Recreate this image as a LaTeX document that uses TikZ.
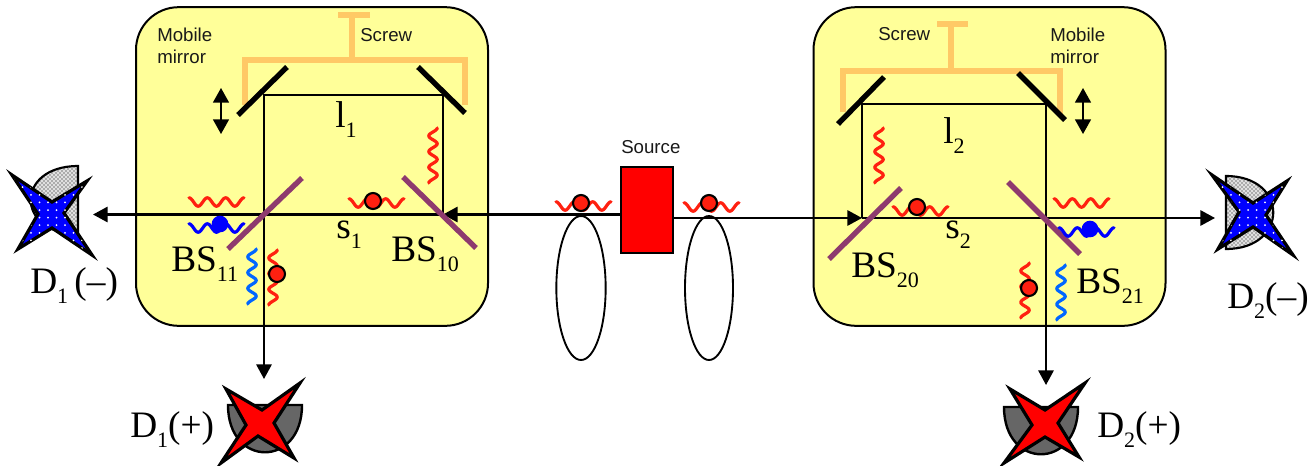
\documentclass[tikz,border=0pt]{standalone}
\usepackage{fontspec}
\setmainfont{Liberation Serif}
\newfontfamily\lsans{Liberation Sans}
\usetikzlibrary{arrows.meta,patterns,shapes.geometric}
\definecolor{boxy}{HTML}{FFFF99}
\definecolor{scr}{HTML}{FFC966}
\definecolor{bsp}{HTML}{8E3A6E}
\definecolor{phr}{HTML}{FF2010}
\definecolor{phb}{HTML}{0000FF}
\definecolor{phl}{HTML}{0066FF}
\definecolor{dgr}{HTML}{666666}
\newcommand{\lsb}[1]{\raisebox{-8pt}{\fontsize{16.5}{16.5}\selectfont #1}}
\newcommand{\hwave}[3]{\draw[wavy,#1] plot[domain=0:1,samples=70] ({#2+55*\x},{#3-4.2*cos(1080*\x)});}
\newcommand{\vwave}[3]{\draw[wavy,#1] plot[domain=0:1,samples=80] ({#2+4.2*cos(1260*\x)},{#3+55*\x});}
\tikzset{
 wavy/.style={line width=2.4pt,line cap=round,line join=round},
 ybox/.style={draw=black,line width=1.5pt,fill=boxy,rounded corners=32pt,minimum width=264pt,minimum height=239pt,inner sep=0pt},
 ray/.style={draw=black,line width=1.6pt},
 rayarr/.style={ray,-{Triangle[length=11pt,width=11.5pt]}},
 mirror/.style={draw=black,line width=4pt},
 bsplit/.style={draw=bsp,line width=4pt},
 screw/.style={draw=scr,line width=5pt},
 dbl/.style={draw=black,line width=1.2pt,{Triangle[length=11pt,width=12pt]}-{Triangle[length=11pt,width=12pt]}},
 photon/.style={circle,draw=black,line width=1.6pt,fill=phr,minimum size=12pt,inner sep=0pt},
 bphoton/.style={circle,fill=phb,minimum size=12.5pt,inner sep=0pt},
 big/.style={font=\fontsize{28}{28}\selectfont,anchor=base west,inner sep=0pt},
 small/.style={font=\lsans\fontsize{14}{14}\selectfont,anchor=base west,inner sep=0pt,text=black!90},
 oval/.style={ellipse,draw=black,line width=1.4pt,fill=white,inner sep=0pt},
 starblue/.style={draw=black,line width=2.4pt,fill=phb,miter limit=10},
 starred/.style={draw=black,line width=2.4pt,fill=red,miter limit=10},
 dotdisc/.style={draw=black,line width=1.6pt,fill=black!12,postaction={pattern=crosshatch dots,pattern color=black}},
 greydisc/.style={draw=black,line width=1.8pt,fill=dgr},
}
\begin{document}
\begin{tikzpicture}[x=0.75pt,y=-0.75pt]
\useasboundingbox (0,0) rectangle (1313,465);
% boxes
\node[ybox] (box1) at (312,166.5) {};
\node[ybox] (box2) at (989.5,166.5) {};
% ovals
\node[oval,minimum width=37pt,minimum height=108pt] (ov1) at (581,288) {};
\node[oval,minimum width=36pt,minimum height=108pt] (ov2) at (709,288) {};
% screws
\draw[screw,line join=miter] (245,105) -- (245,60) -- (465,60) -- (465,105);
\draw[screw] (352,60) -- (352,15);
\draw[screw] (338,15) -- (370,15);
\draw[screw,line join=miter] (843,112) -- (843,71) -- (1060,71) -- (1060,115);
\draw[screw] (951,71) -- (951,24);
\draw[screw] (937,24) -- (968,24);
% junctions
\coordinate (m11) at (264,95);
\coordinate (m10) at (443,95);
\coordinate (b11) at (264,214.5);
\coordinate (b10) at (443,214.5);
\coordinate (m20) at (862,104);
\coordinate (m21) at (1046,104);
\coordinate (b20) at (862,218);
\coordinate (b21) at (1046,218);
\coordinate (in1m) at (93,214.5);
\coordinate (in1p) at (264,379);
\coordinate (in2m) at (1215,218);
\coordinate (in2p) at (1046,385);
\node[draw=black,line width=1.5pt,fill=red,minimum width=38.5pt,minimum height=64.5pt,inner sep=0pt] (src) at (647,210) {};
\coordinate (srcl) at (src.west |- b10);
\coordinate (srcr) at (src.east |- b20);
% rays
\draw[ray] (b10) -- (m10) -- (m11) -- (b11);
\draw[ray] (b20) -- (m20) -- (m21) -- (b21);
\draw[rayarr] (srcl) -- (b10);
\draw[rayarr] (srcr) -- (b20);
\draw[rayarr] (b10) -- (in1m);
\draw[rayarr] (b11) -- (in1p);
\draw[rayarr] (b20) -- (in2m);
\draw[rayarr] (b21) -- (in2p);
% mirrors
\draw[mirror] (238,115) -- (287,67);
\draw[mirror] (418,67) -- (465,113);
\draw[mirror] (838,124) -- (884,77);
\draw[mirror] (1018,73) -- (1065,120);
% beam splitters
\draw[bsplit] (228,249) -- (302,178);
\draw[bsplit] (403,177) -- (476,248);
\draw[bsplit] (829,259) -- (901,188);
\draw[bsplit] (1008,182) -- (1080,254);
% double arrows
\draw[dbl] (221,88) -- (221,134);
\draw[dbl] (1083,88) -- (1083,134);
% waves
\hwave{phr}{189}{202}
\hwave{phb}{189}{228}
\node[bphoton] (pb1) at (220,224) {};
\vwave{phl}{252}{249}
\vwave{phr}{273}{250}
\node[photon] (p1) at (277,274) {};
\vwave{phr}{433}{128}
\hwave{phr}{349}{203}
\node[photon] (p2) at (373,201) {};
\hwave{phr}{556}{206}
\node[photon] (p3) at (581,203) {};
\hwave{phr}{684}{207}
\node[photon] (p4) at (709,203) {};
\vwave{phr}{879}{128}
\hwave{phr}{893}{211}
\node[photon] (p5) at (917,207) {};
\hwave{phr}{1054}{203}
\hwave{phb}{1059}{232}
\node[bphoton] (pb2) at (1090,229) {};
\vwave{phr}{1025}{263}
\node[photon] (p6) at (1029,288) {};
\vwave{phl}{1061}{265}
% detector D1(-)
\path[dotdisc] (78,166) .. controls (15,166) and (15,234) .. (78,234) -- cycle;
\path[starblue] (12,175) -- (52,202) -- (87,181) -- (64,213) -- (92,255) -- (52,228) -- (18,249) -- (38,214) -- cycle;
\begin{scope}
\clip (12,175) -- (52,202) -- (87,181) -- (64,213) -- (92,255) -- (52,228) -- (18,249) -- (38,214) -- cycle;
\foreach \i in {0,...,9}{\foreach \j in {0,...,11}{
  \fill[white] ({14+8.5*\i},{172+7.6*\j}) circle (0.75pt);}}
\end{scope}
% detector D2(-)
\path[dotdisc] (1226,176) .. controls (1289,176) and (1289,249) .. (1226,249) -- cycle;
\path[starblue] (1212,175) -- (1253,203) -- (1287,181) -- (1266,215) -- (1293,255) -- (1253,227) -- (1218,249) -- (1239,212) -- cycle;
\begin{scope}
\clip (1212,175) -- (1253,203) -- (1287,181) -- (1266,215) -- (1293,255) -- (1253,227) -- (1218,249) -- (1239,212) -- cycle;
\foreach \i in {0,...,9}{\foreach \j in {0,...,11}{
  \fill[white] ({1214+8.5*\i},{172+7.6*\j}) circle (0.75pt);}}
\end{scope}
% detector D1(+)
\path[greydisc] (228,405) .. controls (228,468) and (302,468) .. (302,405) -- cycle;
\path[starred] (226,389) -- (262,410) -- (300,383) -- (274,423) -- (294,458) -- (258,436) -- (221,463) -- (246,425) -- cycle;
% detector D2(+)
\path[greydisc] (1004,407) .. controls (1004,470) and (1078,470) .. (1078,407) -- cycle;
\path[starred] (1010,389) -- (1045,410) -- (1085,383) -- (1058,423) -- (1079,457) -- (1045,437) -- (1004,463) -- (1032,425) -- cycle;
% labels
\node[big] (t1) at (30,293) {D\lsb{1}\,(–)};
\node[big] (t2) at (171,271) {BS\lsb{11}};
\node[big] (t3) at (391,261) {BS\lsb{10}};
\node[big] (t4) at (851,277) {BS\lsb{20}};
\node[big] (t5) at (1076,293) {BS\lsb{21}};
\node[big] (t6) at (1227,308) {D\lsb{2}(–)};
\node[big] (t7) at (130,437) {D\lsb{1}(+)};
\node[big] (t8) at (1097,437) {D\lsb{2}(+)};
\node[big] (t9) at (335,127) {l\lsb{1}};
\node[big] (t10) at (943,143) {l\lsb{2}};
\node[big] (t11) at (336,238) {s\lsb{1}};
\node[big] (t12) at (945,238) {s\lsb{2}};
\node[small] (s1) at (360,41) {Screw};
\node[small] (s2) at (157,41) {Mobile};
\node[small] (s3) at (157,63) {mirror};
\node[small] (s4) at (878,40) {Screw};
\node[small] (s5) at (1050,41) {Mobile};
\node[small] (s6) at (1050,63) {mirror};
\node[small] (s7) at (621,153) {Source};
\end{tikzpicture}
\end{document}
